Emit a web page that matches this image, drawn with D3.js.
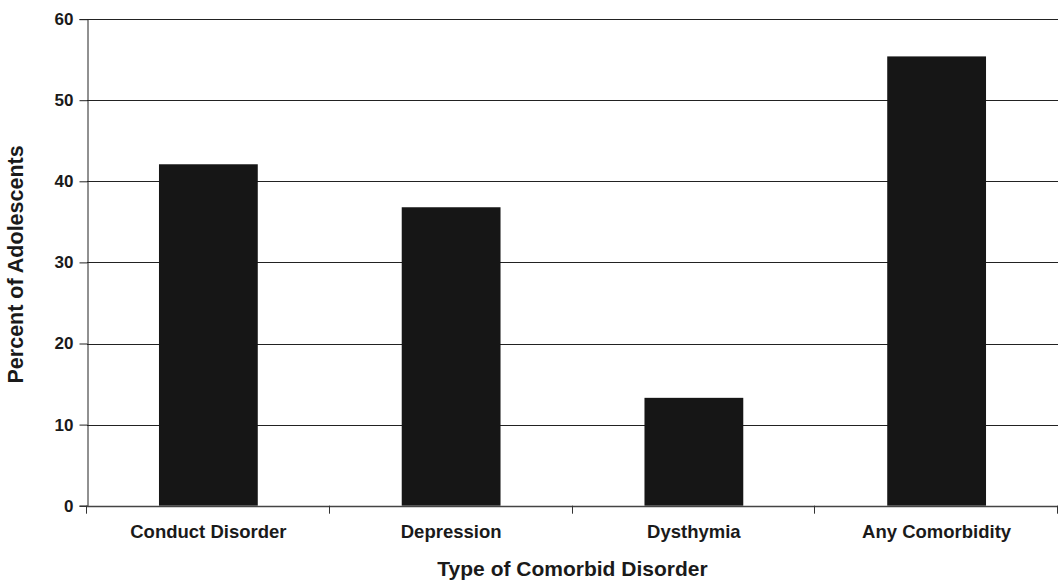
<!DOCTYPE html>
<html>
<head>
<meta charset="utf-8">
<script src="https://cdn.jsdelivr.net/npm/d3@7"></script>
<style>
  html, body { margin: 0; padding: 0; background: #fff; }
  svg { display: block; }
  text { font-family: "Liberation Sans", Arial, Helvetica, sans-serif; font-weight: bold; fill: #1a1a1a; }
</style>
</head>
<body>
<svg id="chart" width="1059" height="581"></svg>
<script>
// Comorbid disorders among adolescents (percent)
const categories = ["Conduct Disorder", "Depression", "Dysthymia", "Any Comorbidity"];
const percents = [42.1, 36.8, 13.3, 55.4];
const yTicks = [0, 10, 20, 30, 40, 50, 60];
const xTitle = "Type of Comorbid Disorder";
const yTitle = "Percent of Adolescents";

const W = 1059, H = 581;
const plot = { left: 87, right: 1058, top: 19.1, bottom: 505.7 };

const svg = d3.select("#chart");

const y = d3.scaleLinear().domain([0, 60]).range([plot.bottom, plot.top]);
const x = d3.scaleBand()
  .domain(categories)
  .range([plot.left, plot.right])
  .paddingInner(0.593)
  .paddingOuter(0.2965);

// horizontal gridlines
svg.append("g")
  .selectAll("line")
  .data(yTicks.filter(t => t > 0))
  .join("line")
  .attr("x1", plot.left).attr("x2", plot.right)
  .attr("y1", d => Math.round(y(d)) + 0.5)
  .attr("y2", d => Math.round(y(d)) + 0.5)
  .attr("stroke", "#222")
  .attr("stroke-width", 1);

// bars
svg.append("g")
  .selectAll("rect")
  .data(categories.map((c, i) => ({ c, v: percents[i] })))
  .join("rect")
  .attr("x", d => x(d.c))
  .attr("width", x.bandwidth())
  .attr("y", d => y(d.v))
  .attr("height", d => y(0) - y(d.v))
  .attr("fill", "#161616");

// y axis
const yAxis = d3.axisLeft(y).tickValues(yTicks).tickSize(8).tickPadding(6);
const gy = svg.append("g")
  .attr("transform", `translate(${plot.left + 0.5},0)`)
  .call(yAxis);
gy.select(".domain").attr("stroke", "#222");
gy.selectAll(".tick line").attr("stroke", "#222");
gy.selectAll(".tick text")
  .style("font-size", "17px")
  .attr("fill", "#1a1a1a");

// x axis: baseline, boundary ticks between categories
const boundaries = categories.map(c => x(c) - (x.step() - x.bandwidth()) / 2)
  .concat([plot.right]);
const gx = svg.append("g");
gx.append("line")
  .attr("x1", plot.left).attr("x2", plot.right)
  .attr("y1", Math.round(y(0)) + 0.5).attr("y2", Math.round(y(0)) + 0.5)
  .attr("stroke", "#444").attr("stroke-width", 1.5);
gx.selectAll("line.tk")
  .data(boundaries)
  .join("line")
  .attr("class", "tk")
  .attr("x1", d => Math.round(d) - 0.5).attr("x2", d => Math.round(d) - 0.5)
  .attr("y1", y(0)).attr("y2", y(0) + 8)
  .attr("stroke", "#333");
gx.selectAll("text")
  .data(categories)
  .join("text")
  .attr("x", d => x(d) + x.bandwidth() / 2)
  .attr("y", 537.5)
  .attr("text-anchor", "middle")
  .style("font-size", "18.5px")
  .text(d => d);

// axis titles
svg.append("text")
  .attr("x", (plot.left + plot.right) / 2)
  .attr("y", 576)
  .attr("text-anchor", "middle")
  .style("font-size", "21px")
  .text(xTitle);

svg.append("text")
  .attr("transform", `translate(23,${(plot.top + plot.bottom) / 2 + 2}) rotate(-90)`)
  .attr("text-anchor", "middle")
  .style("font-size", "21.5px")
  .text(yTitle);
</script>
</body>
</html>
